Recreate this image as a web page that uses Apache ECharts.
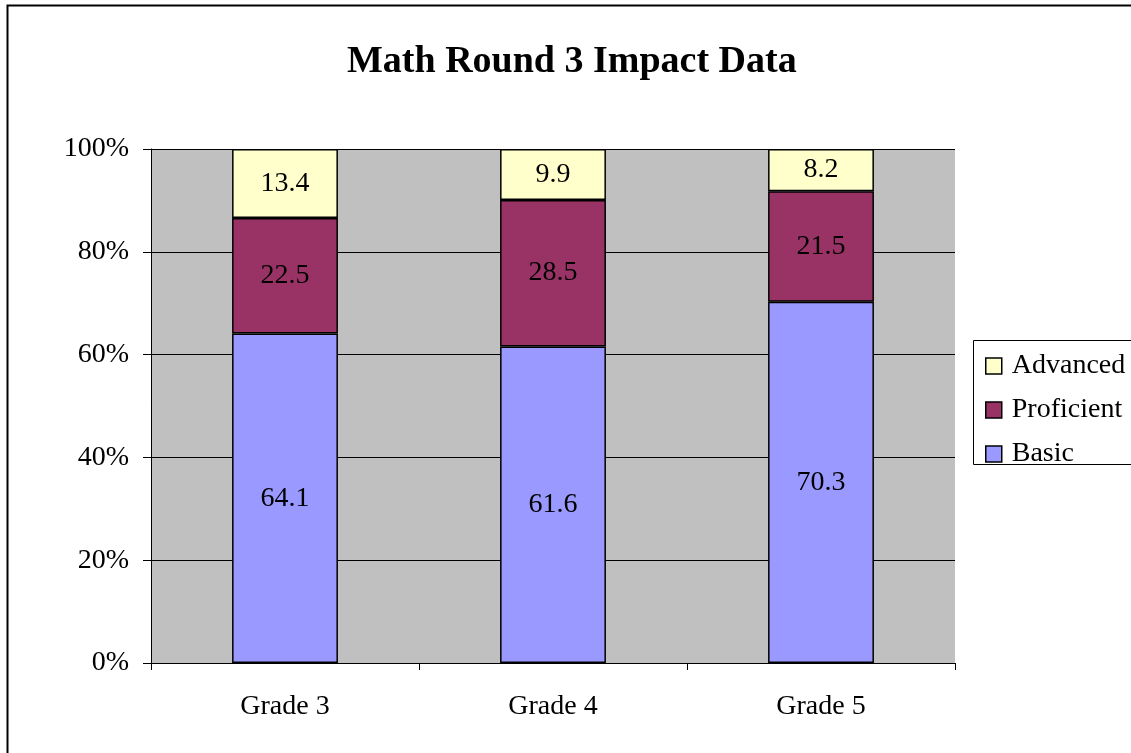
<!DOCTYPE html>
<html>
<head>
<meta charset="utf-8">
<script src="https://cdn.jsdelivr.net/npm/echarts@6/dist/echarts.min.js"></script>
<style>
  html, body { margin: 0; padding: 0; background: #fff; }
  #chart { width: 1131px; height: 753px; }
</style>
</head>
<body>
<div id="chart"></div>
<script>
const categories = ['Grade 3', 'Grade 4', 'Grade 5'];
const basic = [64.1, 61.6, 70.3];
const proficient = [22.5, 28.5, 21.5];
const advanced = [13.4, 9.9, 8.2];

const font = 'Liberation Serif, Times New Roman, serif';

const labelStyle = {
  show: true,
  position: 'inside',
  color: '#000',
  fontFamily: font,
  fontSize: 28
};

function makeSeries(name, data, color) {
  return {
    name: name,
    type: 'bar',
    stack: 'total',
    data: data,
    barWidth: '39.5%',
    itemStyle: { color: color, borderColor: '#000', borderWidth: 1.5 },
    label: labelStyle
  };
}

const chart = echarts.init(document.getElementById('chart'), null, { renderer: 'canvas' });

chart.setOption({
  animation: false,
  backgroundColor: '#fff',
  title: {
    text: 'Math Round 3 Impact Data',
    left: 347,
    top: 43,
    padding: 0,
    textStyle: { fontFamily: font, fontSize: 38, fontWeight: 'bold', color: '#000' }
  },
  graphic: [{
    type: 'rect',
    shape: { x: 7.5, y: 5.5, width: 1200, height: 800 },
    style: { fill: 'none', stroke: '#000', lineWidth: 2 },
    silent: true
  }, {
    type: 'rect',
    shape: { x: 973.5, y: 340.5, width: 200, height: 124 },
    style: { fill: '#fff', stroke: '#000', lineWidth: 1 },
    silent: true,
    z: -1
  }],
  legend: {
    orient: 'vertical',
    left: 985,
    top: 352,
    padding: 0,
    itemGap: 16,
    itemWidth: 16,
    itemHeight: 16,
    icon: 'rect',
    data: ['Advanced', 'Proficient', 'Basic'],
    itemStyle: { borderColor: '#000', borderWidth: 1.5 },
    textStyle: { fontFamily: font, fontSize: 28, color: '#000', padding: [0, 0, 0, 5] }
  },
  grid: {
    left: 151,
    right: 176,
    top: 149,
    bottom: 90,
    show: true,
    backgroundColor: '#C0C0C0',
    borderWidth: 0
  },
  xAxis: {
    type: 'category',
    data: categories,
    axisLine: { lineStyle: { color: '#000', width: 1 } },
    axisTick: { show: true, alignWithLabel: false, length: 7, lineStyle: { color: '#000' } },
    axisLabel: { fontFamily: font, fontSize: 28, color: '#000', margin: 30 }
  },
  yAxis: {
    type: 'value',
    min: 0,
    max: 100,
    interval: 20,
    axisLine: { show: true, lineStyle: { color: '#000', width: 1 } },
    axisTick: { show: true, length: 8, lineStyle: { color: '#000' } },
    axisLabel: { formatter: '{value}%', fontFamily: font, fontSize: 28, color: '#000', margin: 22 },
    splitLine: { show: true, lineStyle: { color: '#000', width: 1 } }
  },
  series: [
    makeSeries('Basic', basic, '#9999FF'),
    makeSeries('Proficient', proficient, '#993366'),
    makeSeries('Advanced', advanced, '#FFFFCC')
  ]
});
</script>
</body>
</html>
